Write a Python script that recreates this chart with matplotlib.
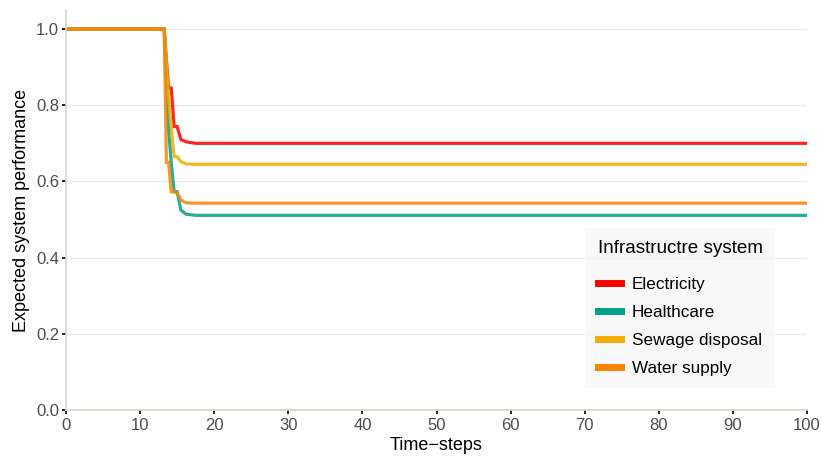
import matplotlib
matplotlib.use("Agg")
import matplotlib.pyplot as plt
import numpy as np

plt.rcParams['font.family'] = ['Liberation Sans', 'DejaVu Sans']

# Time points (sampled where the curves change) and performance values
time_steps = [0, 13.25, 13.55, 13.85, 14.2, 14.6, 15.0, 15.5, 16.2, 17.5, 100]
electricity = [1.0, 1.0, 0.92, 0.845, 0.845, 0.744, 0.744, 0.71, 0.704, 0.70, 0.70]
healthcare = [1.0, 1.0, 0.87, 0.735, 0.65, 0.573, 0.573, 0.525, 0.514, 0.511, 0.511]
sewage = [1.0, 1.0, 0.91, 0.822, 0.74, 0.665, 0.665, 0.652, 0.646, 0.645, 0.645]
water = [1.0, 1.0, 0.65, 0.65, 0.573, 0.573, 0.57, 0.551, 0.544, 0.543, 0.543]

names = ["Electricity", "Healthcare", "Sewage disposal", "Water supply"]
colors = ["#FF0000", "#00A08A", "#F2AD00", "#F98400"]
values = [electricity, healthcare, sewage, water]

fig = plt.figure(figsize=(8.22, 4.59), dpi=100)
ax = fig.add_axes([66/822, 49/459, (807-66)/822, (410-10)/459])

for name, vals, col in zip(names, values, colors):
    ax.plot(time_steps, vals, color=col, lw=2.3, alpha=0.85, label=name,
            solid_joinstyle='miter')

ax.set_xlim(0, 100)
ax.set_ylim(0, 1.05)
ax.set_xticks(np.arange(0, 101, 10))
ax.set_yticks(np.arange(0, 1.01, 0.2))
ax.set_yticklabels([f"{v:.1f}" for v in np.arange(0, 1.01, 0.2)])
ax.yaxis.grid(True, color="#ebebeb", lw=1)
ax.xaxis.grid(False)
ax.set_axisbelow(True)
for s in ["top", "right"]:
    ax.spines[s].set_visible(False)
for s in ["left", "bottom"]:
    ax.spines[s].set_color("#d9d4c5")
    ax.spines[s].set_linewidth(1.2)
ax.tick_params(axis="both", colors="black", length=3, width=1.2,
               labelsize=12, labelcolor="#4d4d4d", pad=2)
ax.tick_params(axis="x", pad=3)
ax.set_xlabel("Time\u2212steps", fontsize=13, labelpad=3)
ax.set_ylabel("Expected system performance", fontsize=13, labelpad=4)

leg = ax.legend(title="Infrastructre system", loc="lower right",
                bbox_to_anchor=((775-66)/741, (410-388)/400),
                frameon=True, fontsize=12.3, title_fontsize=13.6,
                handlelength=1.35, handletextpad=0.65, labelspacing=0.76,
                borderpad=0.72, fancybox=False, borderaxespad=0)
leg.get_frame().set_facecolor("#f7f7f7")
leg.get_frame().set_edgecolor("none")
leg._legend_box.align = "left"
leg._legend_box.sep = 14
for h in leg.get_lines():
    h.set_linewidth(5)
    h.set_alpha(1)

fig.savefig("out.png", dpi=100)
